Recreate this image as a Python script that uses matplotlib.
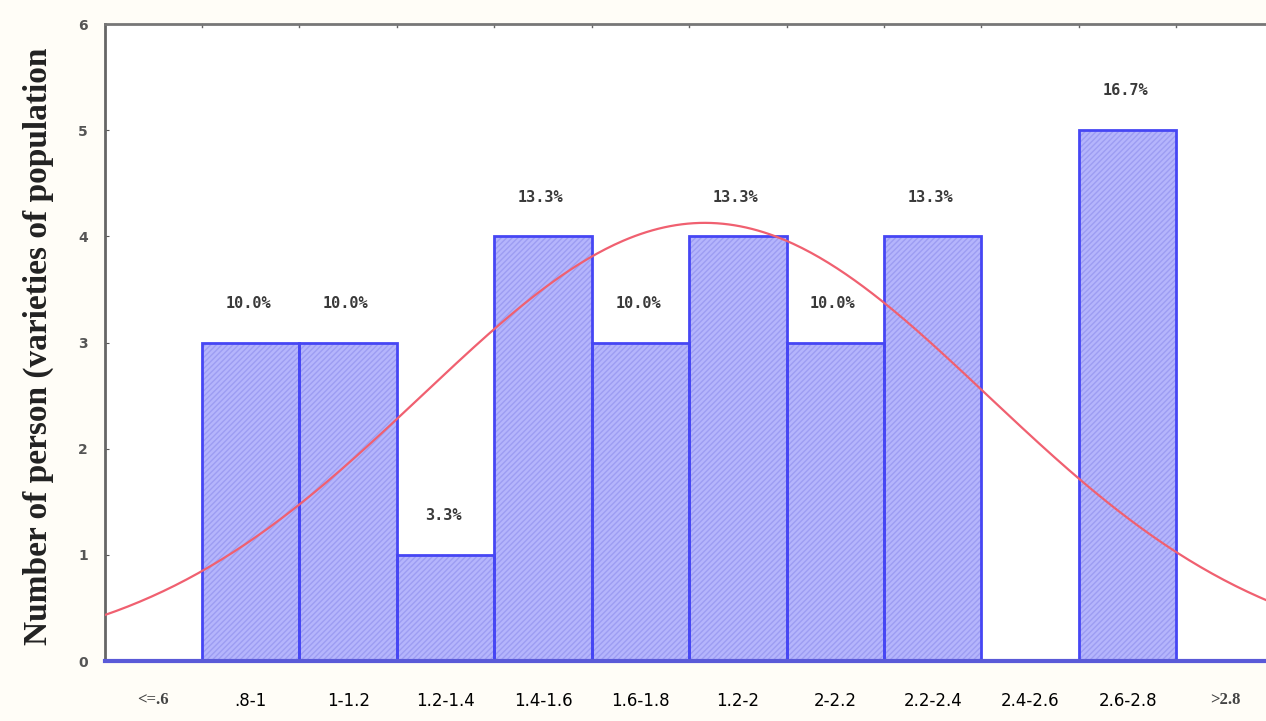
import numpy as np
import matplotlib.pyplot as plt

# Histogram bins (width 0.2) and counts per bin
bin_labels = ['<=.6', '.8-1', '1-1.2', '1.2-1.4', '1.4-1.6', '1.6-1.8',
              '1.2-2', '2-2.2', '2.2-2.4', '2.4-2.6', '2.6-2.8', '>2.8']
counts = [0, 3, 3, 1, 4, 3, 4, 3, 4, 0, 5, 0]
pct_labels = ['', '10.0%', '10.0%', '3.3%', '13.3%', '10.0%',
              '13.3%', '10.0%', '13.3%', '', '16.7%', '']

# Normal fit parameters
fit_mean = 1.832
fit_sd = 0.58

bin_width = 0.2
start = 0.6
n = sum(counts)
left_edges = start + bin_width * np.arange(len(counts))
centers = left_edges + bin_width / 2

fig = plt.figure(figsize=(12.66, 7.21), dpi=100, facecolor='#fffdf7')
ax = fig.add_axes([0.0826, 0.0832, 0.9174, 0.8835])
ax.set_facecolor('white')

# filled, hatched bars
ax.bar(left_edges, counts, width=bin_width, align='edge', color='#b5b5fc',
       edgecolor='#9d9df2', linewidth=0, hatch='//////', zorder=2)
# bar outlines
nz = [i for i, c in enumerate(counts) if c > 0]
ax.bar(left_edges[nz], np.array(counts)[nz], width=bin_width, align='edge',
       fill=False, edgecolor='#4646f4', linewidth=2, zorder=3)

# expected counts from fitted normal
xs = np.linspace(start, start + bin_width * 12, 400)
ys = n * bin_width / (fit_sd * np.sqrt(2 * np.pi)) * np.exp(-0.5 * ((xs - fit_mean) / fit_sd) ** 2)
ax.plot(xs, ys, color='#f06070', linewidth=1.6, zorder=4)

for x, c, lab in zip(centers, counts, pct_labels):
    if lab:
        ax.text(x - 0.005, c + 0.37, lab, ha='center', va='center', fontsize=11,
                fontweight='bold', color='#3a3a3a', family='DejaVu Sans Mono')

ax.set_xlim(start, start + bin_width * 11.92)
ax.set_ylim(0, 6)

ax.set_xticks(centers)
ax.set_xticklabels(bin_labels, fontsize=12, family='DejaVu Sans')
for t in ax.get_xticklabels()[::11]:
    t.set_fontsize(12)
    t.set_fontweight('bold')
    t.set_family('Liberation Serif')
    t.set_color('#444444')
ax.tick_params(axis='x', length=0, pad=22)

ax.set_yticks(range(7))
ax.tick_params(axis='y', direction='in', length=3, labelsize=10, pad=12,
               colors='#555555')
for t in ax.get_yticklabels():
    t.set_fontweight('bold')

# top edge ticks at bin boundaries
for e in left_edges[1:]:
    ax.plot([e, e], [6, 5.97], color='#666666', linewidth=1, clip_on=False)

ax.spines['right'].set_visible(False)
ax.spines['top'].set_color('#777777')
ax.spines['top'].set_linewidth(2)
ax.spines['left'].set_color('#666666')
ax.spines['left'].set_linewidth(2)
ax.spines['bottom'].set_color('#5a5ad8')
ax.spines['bottom'].set_linewidth(3)
ax.spines['bottom'].set_zorder(5)

fig.text(0.03, 0.52, 'Number of person (varieties of population', rotation=90,
         ha='center', va='center', fontsize=24, fontweight='bold',
         family='Liberation Serif', color='#222222')

fig.savefig('out.png', dpi=100, facecolor=fig.get_facecolor())
